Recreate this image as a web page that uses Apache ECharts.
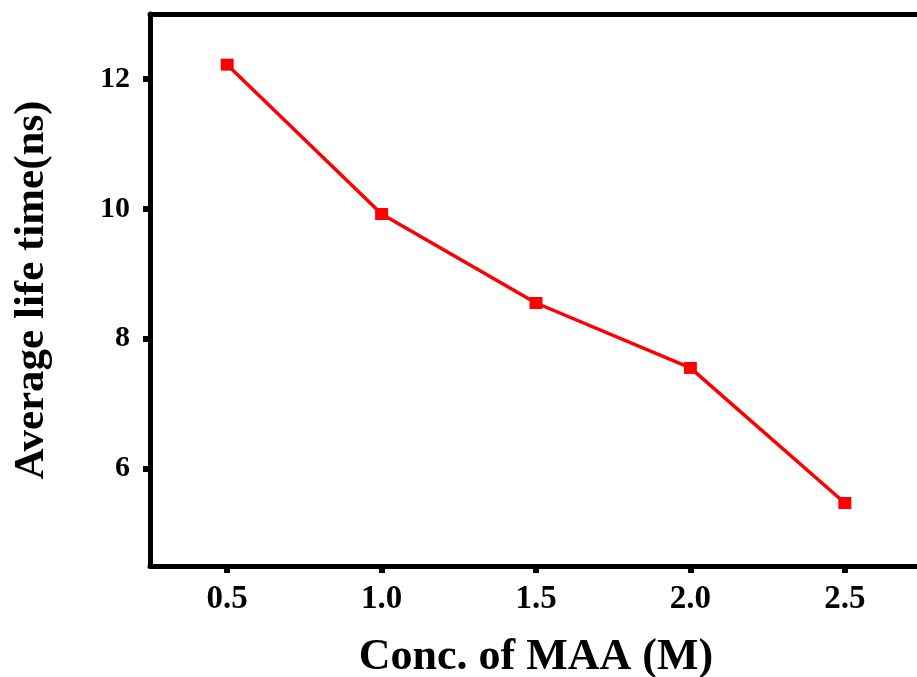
<!DOCTYPE html>
<html><head><meta charset="utf-8">
<script src="https://cdn.jsdelivr.net/npm/echarts@6/dist/echarts.min.js"></script>
<style>html,body{margin:0;padding:0;background:#fff;overflow:hidden}#c{width:917px;height:677px}</style>
</head><body><div id="c"></div>
<script>
var conc = [0.5, 1.0, 1.5, 2.0, 2.5];
var lifetime = [12.22, 9.92, 8.55, 7.55, 5.47];
var yTicks = [6, 8, 10, 12];
var xTitle = 'Conc. of MAA (M)';
var yTitle = 'Average life time(ns)';
var font = "'Liberation Serif','Times New Roman',serif";
var chart = echarts.init(document.getElementById('c'));
var axisLine = {show: true, onZero: false, lineStyle: {color: '#000', width: 5}};
chart.setOption({
  animation: false,
  grid: {left: 150, top: 14, width: 772, height: 552, show: false, outerBoundsMode: 'none', containLabel: false},
  xAxis: [{
    type: 'value', min: 0.25, max: 2.75,
    axisLine: axisLine,
    axisTick: {show: true, length: 7, lineStyle: {width: 6, color: '#000'}, customValues: conc},
    axisLabel: {margin: 17, color: '#000', fontFamily: font, fontWeight: 'bold', fontSize: 33,
      formatter: function (v) { return v.toFixed(1); },
      customValues: conc},
    splitLine: {show: false},
    name: xTitle, nameLocation: 'middle', nameGap: 70,
    nameTextStyle: {color: '#000', fontFamily: font, fontWeight: 'bold', fontSize: 44}
  }, {
    type: 'value', position: 'top', min: 0.25, max: 2.75,
    axisLine: axisLine, axisTick: {show: false}, axisLabel: {show: false}, splitLine: {show: false}
  }],
  yAxis: {
    type: 'value', min: 4.5, max: 13,
    axisLine: axisLine,
    axisTick: {show: true, length: 7, lineStyle: {width: 6, color: '#000'}, customValues: yTicks},
    axisLabel: {margin: 20, color: '#000', fontFamily: font, fontWeight: 'bold', fontSize: 30, customValues: yTicks},
    splitLine: {show: false},
    name: yTitle, nameLocation: 'middle', nameGap: 97,
    nameTextStyle: {color: '#000', fontFamily: font, fontWeight: 'bold', fontSize: 43}
  },
  series: [{
    type: 'line', xAxisIndex: 0,
    data: conc.map(function (c, i) { return [c, lifetime[i]]; }),
    symbol: 'rect', symbolSize: [13, 12],
    lineStyle: {color: '#ff0000', width: 3.5},
    itemStyle: {color: '#ff0000'}
  }]
});
</script></body></html>
